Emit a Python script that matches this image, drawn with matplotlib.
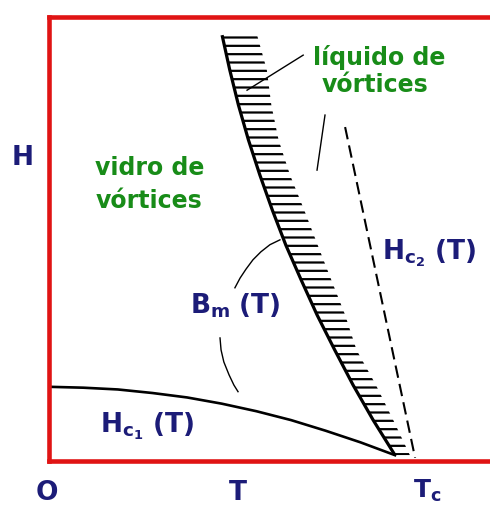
import numpy as np
import matplotlib
matplotlib.use("Agg")
import matplotlib.pyplot as plt

# phase diagram data, T in units of Tc, H normalised to the top of the frame
hc1_t = [0.0, 0.1, 0.2, 0.3, 0.4, 0.5, 0.6, 0.7, 0.8, 0.9, 1.0]
hc1_h = [0.166, 0.164, 0.160, 0.152, 0.142, 0.128, 0.111, 0.091, 0.067, 0.041, 0.012]

bm_t = [0.501, 0.523, 0.548, 0.577, 0.610, 0.646, 0.685, 0.729, 0.775,
        0.826, 0.879, 0.937, 1.0]
bm_h = [0.958, 0.880, 0.801, 0.722, 0.643, 0.564, 0.485, 0.407, 0.328,
        0.249, 0.170, 0.091, 0.012]
# width of the hatched band to the right of Bm(T)
band_w = [0.101, 0.107, 0.095, 0.087, 0.087, 0.092, 0.092, 0.087, 0.081,
          0.063, 0.066, 0.058, 0.043]

hc2_t = [0.856, 1.058]
hc2_h = [0.751, 0.006]

# pointer lines from the labels
lead_liq_t = [0.735, 0.573]
lead_liq_h = [0.913, 0.834]
lead_liq2_t = [0.798, 0.775]
lead_liq2_h = [0.778, 0.654]
lead_bm_t = [0.538, 0.553, 0.570, 0.590, 0.613, 0.639, 0.668]
lead_bm_h = [0.389, 0.411, 0.431, 0.452, 0.470, 0.486, 0.497]
lead_hc1_t = [0.495, 0.498, 0.506, 0.521, 0.535, 0.547]
lead_hc1_h = [0.276, 0.249, 0.222, 0.193, 0.170, 0.155]

red = "#e01414"
green = "#188c18"
navy = "#1c1c78"

plt.rcParams['font.family'] = ['DejaVu Sans']
plt.rcParams['hatch.linewidth'] = 1.6

fig = plt.figure(figsize=(4.9, 5.07), dpi=100)
ax = fig.add_axes([48.5 / 490, 46.5 / 507, 1 - 48.5 / 490, 444 / 507])
ax.set_xlim(0, 441.5 / 346.5)
ax.set_ylim(0, 1)
ax.set_xticks([])
ax.set_yticks([])
for s in ['left', 'top', 'bottom']:
    ax.spines[s].set_color(red)
    ax.spines[s].set_linewidth(3.3)
ax.spines['right'].set_visible(False)

# hatched band (vortex liquid side of the melting line)
bm_t = np.array(bm_t)
ax.fill_betweenx(bm_h, bm_t, bm_t + np.array(band_w), facecolor='none',
                 edgecolor='black', linewidth=0, hatch='--')
ax.plot(bm_t, bm_h, color='black', lw=2.3, solid_capstyle='butt')
ax.plot(hc1_t, hc1_h, color='black', lw=1.9)
ax.plot(hc2_t, hc2_h, color='black', lw=1.5, dashes=(6, 3))

for lt, lh in [(lead_liq_t, lead_liq_h), (lead_liq2_t, lead_liq2_h),
               (lead_bm_t, lead_bm_h), (lead_hc1_t, lead_hc1_h)]:
    ax.plot(lt, lh, color='black', lw=1.0)

# region names
gkw = dict(color=green, fontsize=17, fontweight='bold', ha='center', va='baseline')
ax.text(0.954, 0.891, 'líquido de', **gkw)
ax.text(0.942, 0.830, 'vórtices', **gkw)
ax.text(0.293, 0.643, 'vidro de', **gkw)
ax.text(0.290, 0.569, 'vórtices', **gkw)

# curve and axis labels
nkw = dict(color=navy, fontsize=19, fontweight='bold', va='baseline')
ax.text(0.408, 0.332, r'$\mathregular{B_m\ (T)}$', ha='left', **nkw)
ax.text(0.962, 0.452, r'$\mathregular{H_{c_2}\ (T)}$', ha='left', **nkw)
ax.text(0.149, 0.064, r'$\mathregular{H_{c_1}\ (T)}$', ha='left', **nkw)
ax.text(-0.076, 0.666, 'H', ha='center', **nkw)
ax.text(-0.004, -0.089, 'O', ha='center', **nkw)
ax.text(0.547, -0.089, 'T', ha='center', **nkw)
ax.text(1.052, -0.084, r'$\mathregular{T_c}$', ha='left', color=navy,
        fontsize=18, fontweight='bold', va='baseline')

fig.savefig('out.png', dpi=100)
